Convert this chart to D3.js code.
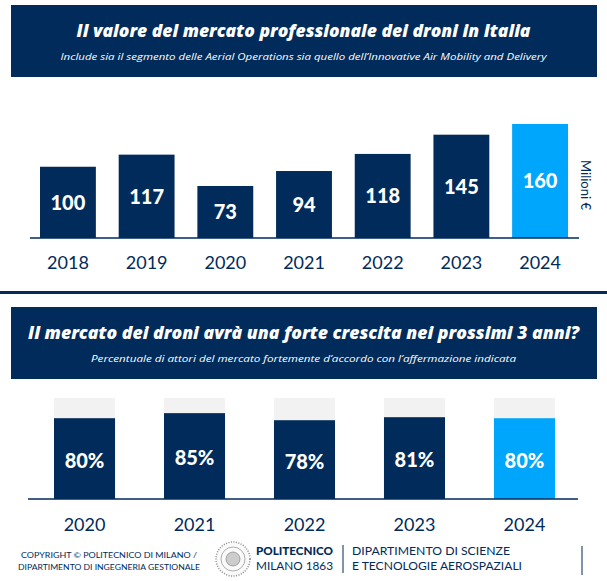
<!DOCTYPE html>
<html>
<head>
<meta charset="utf-8">
<script src="https://cdn.jsdelivr.net/npm/d3@7"></script>
<style>
  body { margin: 0; background: #fff; }
  svg { display: block; font-family: "Lato", "Open Sans", sans-serif; }
</style>
</head>
<body>
<div id="chart"></div>
<script>
// Data
const marketYears = ["2018", "2019", "2020", "2021", "2022", "2023", "2024"];
const marketValues = [100, 117, 73, 94, 118, 145, 160];
const growthYears = ["2020", "2021", "2022", "2023", "2024"];
const growthValues = [80, 85, 78, 81, 80];

const width = 607, height = 581;
const navy = "#002b5a";
const light = "#00a6fb";

const svg = d3.select("#chart").append("svg")
  .attr("width", width)
  .attr("height", height);

// header boxes
function header(y, title, titleLen, sub, subLen) {
  svg.append("rect")
    .attr("x", 11).attr("y", y).attr("width", 586).attr("height", 72)
    .attr("fill", navy);
  svg.append("text")
    .attr("x", width / 2).attr("y", y + 32)
    .attr("text-anchor", "middle")
    .attr("fill", "#fff")
    .attr("textLength", titleLen).attr("lengthAdjust", "spacingAndGlyphs")
    .style("font-family", "'Open Sans', sans-serif")
    .style("font-size", "18px").style("font-weight", "800").style("font-style", "italic")
    .text(title);
  svg.append("text")
    .attr("x", width / 2).attr("y", y + 55)
    .attr("text-anchor", "middle")
    .attr("fill", "#fff")
    .attr("textLength", subLen).attr("lengthAdjust", "spacingAndGlyphs")
    .style("font-family", "'Open Sans', sans-serif")
    .style("font-size", "9.5px").style("font-style", "italic")
    .text(sub);
}
header(5, "Il valore del mercato professionale dei droni in Italia", 454,
  "Include sia il segmento delle Aerial Operations sia quello dell’Innovative Air Mobility and Delivery", 486);
header(307, "Il mercato dei droni avrà una forte crescita nei prossimi 3 anni?", 551,
  "Percentuale di attori del mercato fortemente d’accordo con l’affermazione indicata", 425);

// top chart
const base1 = 238;
const x1 = d3.scaleBand().domain(marketYears).range([40, 568]).paddingInner(0.29).paddingOuter(0);
const y1 = d3.scaleLinear().domain([0, 160]).range([base1, 124]);

svg.selectAll(".bar1").data(marketValues).enter().append("rect")
  .attr("x", (d, i) => x1(marketYears[i]))
  .attr("y", d => y1(d))
  .attr("width", x1.bandwidth())
  .attr("height", d => base1 - y1(d))
  .attr("fill", (d, i) => i === marketValues.length - 1 ? light : navy);

svg.selectAll(".lab1").data(marketValues).enter().append("text")
  .attr("x", (d, i) => x1(marketYears[i]) + x1.bandwidth() / 2)
  .attr("y", d => (y1(d) + base1) / 2)
  .attr("dy", "0.36em")
  .attr("text-anchor", "middle")
  .attr("fill", "#fff")
  .style("font-size", "20px").style("font-weight", "900")
  .text(d => d);

const ax1 = svg.append("g").attr("transform", `translate(0,${base1})`)
  .call(d3.axisBottom(x1).tickSize(0).tickPadding(18));
ax1.select(".domain").attr("stroke", navy).attr("stroke-width", 1.5).attr("d", "M30,0H579");
ax1.selectAll("text").attr("fill", navy).style("font-size", "18px")
  .style("font-family", "Lato, sans-serif");

svg.append("text")
  .attr("transform", "translate(581,185) rotate(90)")
  .attr("text-anchor", "middle")
  .attr("fill", navy)
  .style("font-size", "13px")
  .text("Milioni €");

// separator
svg.append("rect").attr("x", 0).attr("y", 291).attr("width", width).attr("height", 3).attr("fill", navy);

// bottom chart
const base2 = 499;
const x2 = d3.scaleBand().domain(growthYears).range([54, 555]).paddingInner(0.445).paddingOuter(0);
const y2 = d3.scaleLinear().domain([0, 100]).range([base2, 398]);

svg.selectAll(".bg2").data(growthValues).enter().append("rect")
  .attr("x", (d, i) => x2(growthYears[i]))
  .attr("y", y2(100))
  .attr("width", x2.bandwidth())
  .attr("height", base2 - y2(100))
  .attr("fill", "#f2f2f2");

svg.selectAll(".bar2").data(growthValues).enter().append("rect")
  .attr("x", (d, i) => x2(growthYears[i]))
  .attr("y", d => y2(d))
  .attr("width", x2.bandwidth())
  .attr("height", d => base2 - y2(d))
  .attr("fill", (d, i) => i === growthValues.length - 1 ? light : navy);

svg.selectAll(".lab2").data(growthValues).enter().append("text")
  .attr("x", (d, i) => x2(growthYears[i]) + x2.bandwidth() / 2)
  .attr("y", d => (y2(d) + base2) / 2 + 2)
  .attr("dy", "0.36em")
  .attr("text-anchor", "middle")
  .attr("fill", "#fff")
  .style("font-size", "20px").style("font-weight", "900")
  .text(d => d + "%");

const ax2 = svg.append("g").attr("transform", `translate(0,${base2})`)
  .call(d3.axisBottom(x2).tickSize(0).tickPadding(19));
ax2.select(".domain").attr("stroke", navy).attr("stroke-width", 1.5).attr("d", "M28,0H578");
ax2.selectAll("text").attr("fill", navy).style("font-size", "18px")
  .style("font-family", "Lato, sans-serif");

// footer
const foot = svg.append("g").attr("fill", navy);
foot.append("text").attr("x", 109).attr("y", 558).attr("text-anchor", "middle")
  .attr("textLength", 176).attr("lengthAdjust", "spacingAndGlyphs")
  .style("font-size", "7.6px").text("COPYRIGHT © POLITECNICO DI MILANO /");
foot.append("text").attr("x", 109).attr("y", 570).attr("text-anchor", "middle")
  .attr("textLength", 182).attr("lengthAdjust", "spacingAndGlyphs")
  .style("font-size", "7.6px").text("DIPARTIMENTO DI INGEGNERIA GESTIONALE");

svg.append("circle").attr("cx", 233).attr("cy", 559).attr("r", 17)
  .attr("fill", "#fafafa").attr("stroke", "#888").attr("stroke-width", 1.5)
  .attr("stroke-dasharray", "1,1.5");
svg.append("circle").attr("cx", 233).attr("cy", 559).attr("r", 12)
  .attr("fill", "none").attr("stroke", "#999").attr("stroke-width", 0.8);
svg.append("circle").attr("cx", 233).attr("cy", 559).attr("r", 7)
  .attr("fill", "#ccc").attr("stroke", "#777").attr("stroke-width", 0.6);

foot.append("text").attr("x", 256).attr("y", 555)
  .attr("textLength", 77).attr("lengthAdjust", "spacingAndGlyphs")
  .style("font-size", "11px").style("font-weight", "900").text("POLITECNICO");
foot.append("text").attr("x", 256).attr("y", 570)
  .attr("textLength", 77).attr("lengthAdjust", "spacingAndGlyphs")
  .style("font-size", "11px").text("MILANO 1863");
svg.append("line").attr("x1", 343).attr("x2", 343).attr("y1", 545).attr("y2", 573)
  .attr("stroke", navy).attr("stroke-width", 1);
foot.append("text").attr("x", 352).attr("y", 555)
  .attr("textLength", 158).attr("lengthAdjust", "spacingAndGlyphs")
  .style("font-size", "11px").text("DIPARTIMENTO DI SCIENZE");
foot.append("text").attr("x", 352).attr("y", 570)
  .attr("textLength", 170).attr("lengthAdjust", "spacingAndGlyphs")
  .style("font-size", "11px").text("E TECNOLOGIE AEROSPAZIALI");
svg.append("line").attr("x1", 582).attr("x2", 582).attr("y1", 546).attr("y2", 575)
  .attr("stroke", navy).attr("stroke-width", 1);
</script>
</body>
</html>
